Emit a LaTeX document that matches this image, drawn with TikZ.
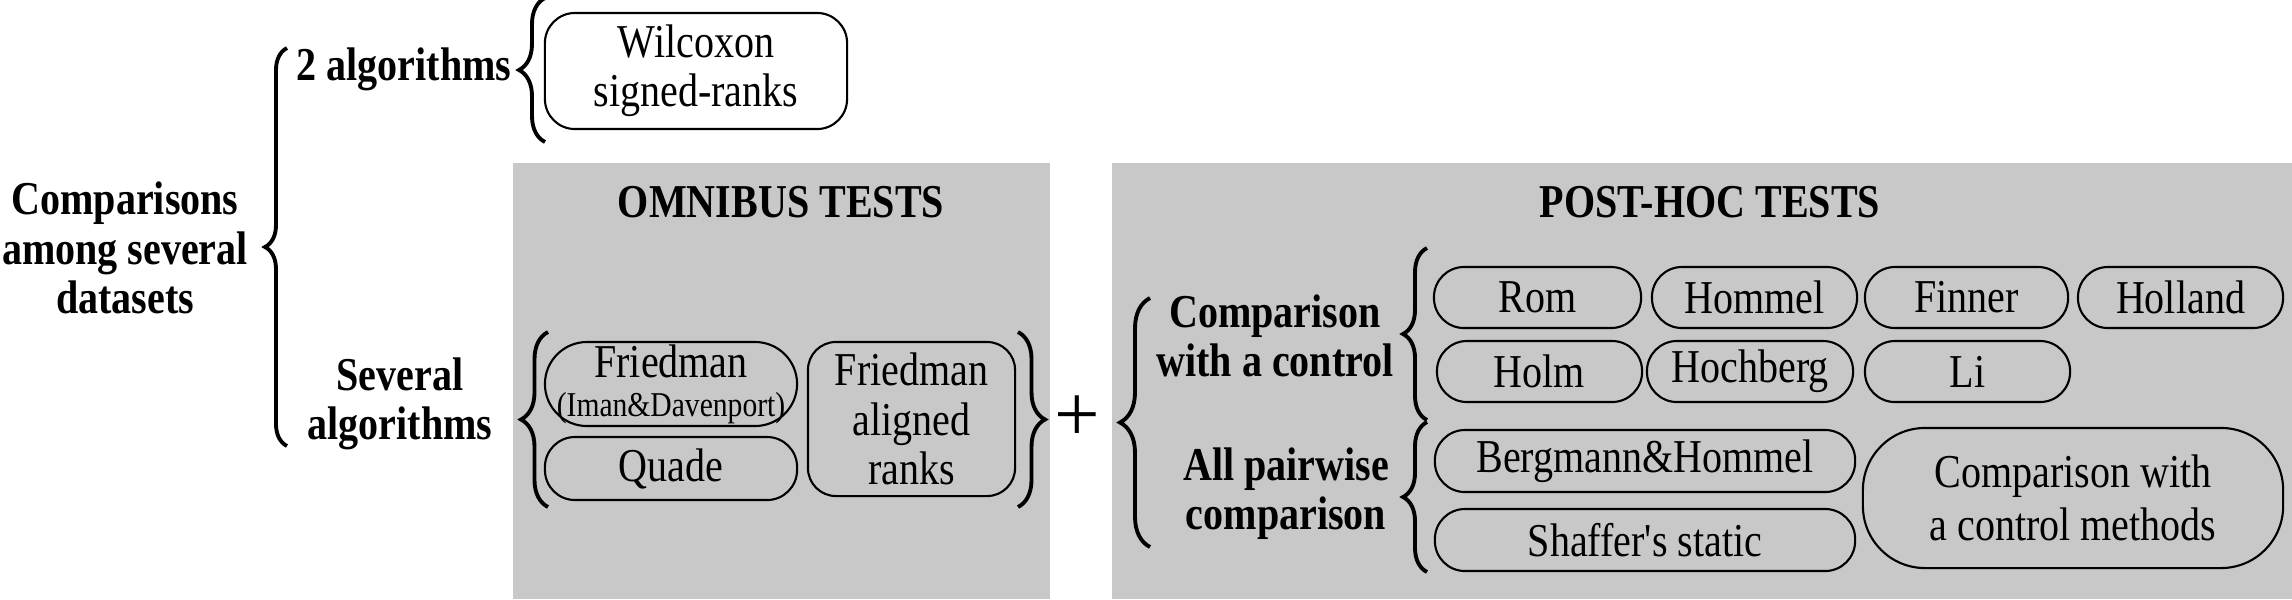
\documentclass[tikz,border=0pt]{standalone}
\usepackage{fontspec}
\setmainfont{Liberation Serif}[FakeStretch=0.85, Ligatures=TeXOff]
\newfontfamily\plainserif{Liberation Serif}
\usetikzlibrary{decorations.pathreplacing}
\definecolor{panelgray}{RGB}{200,200,200}

\begin{document}
\begin{tikzpicture}[%
  x=0.01cm, y=-0.01cm,
  every node/.style={inner sep=0pt, align=center, font=\fontsize{13.4pt}{14pt}\selectfont},
  grouptext/.style={font=\fontsize{13.4pt}{14pt}\selectfont\bfseries},
  pill/.style={draw, line width=0.6pt, rounded corners=0.3cm, minimum height=0.61cm},
  curly/.style={decorate, decoration={brace, amplitude=#1}, line width=1.1pt}]
  \useasboundingbox (0,0) rectangle (2292,599);
  \fill[panelgray] (513,163) rectangle (1050,599);
  \fill[panelgray] (1112,163) rectangle (2292,599);

  \node[grouptext] (datasets) at (125,248) {Comparisons\\among several\\datasets};
  \node[grouptext, anchor=base] (twoalg) at (404,80) {2 algorithms};
  \node[grouptext] (severalalg) at (400,404) {Several\\algorithms};
  \node[pill, minimum width=3.02cm, minimum height=1.16cm] (wilcoxon) at (696,71)
    {Wilcoxon\\signed-ranks};

  \node[grouptext, anchor=base] (omnibus) at (781,217) {OMNIBUS TESTS};
  \node[pill, rounded corners=0.42cm, minimum width=2.52cm, minimum height=0.84cm] (friedman) at (671,384)
    {Friedman\\[-3pt]{\fontsize{9.9pt}{10pt}\selectfont(Iman\&Davenport)}};
  \node[pill, minimum width=2.52cm, minimum height=0.63cm] (quade) at (671,468.5) {Quade};
  \node[pill, rounded corners=0.28cm, minimum width=2.07cm, minimum height=1.54cm] (aligned) at (911.5,419)
    {Friedman\\aligned\\ranks};
  \node[font=\plainserif\fontsize{23pt}{23pt}\selectfont] (plus) at (1077,419) {+};

  \node[grouptext, anchor=base] (posthoc) at (1710,217) {POST-HOC TESTS};
  \node[grouptext] (control) at (1275,336) {Comparison\\with a control};
  \node[grouptext] (pairwise) at (1286,494) {All pairwise\\comparison};
  \node[pill, minimum width=2.07cm] (rom) at (1537.5,297.5) {Rom};
  \node[pill, minimum width=2.05cm] (hommel) at (1754.5,297.5) {Hommel};
  \node[pill, minimum width=2.03cm] (finner) at (1966.5,297.5) {Finner};
  \node[pill, minimum width=2.05cm] (holland) at (2180.5,297.5) {Holland};
  \node[pill, minimum width=2.05cm] (holm) at (1539.5,371.5) {Holm};
  \node[pill, minimum width=2.06cm] (hochberg) at (1750,371.5) {Hochberg};
  \node[pill, minimum width=2.05cm] (li) at (1967.5,371.5) {Li};
  \node[pill, minimum width=4.2cm, minimum height=0.62cm] (bergmann) at (1645,461) {Bergmann\&Hommel};
  \node[pill, minimum width=4.2cm, minimum height=0.62cm] (shaffer) at (1645,540) {Shaffer's static};
  \node[pill, rounded corners=0.62cm, minimum width=4.2cm, minimum height=1.4cm] (methods) at (2073,498)
    {Comparison with\\[1pt]a control methods};

  \coordinate (mainlow) at (287,446);
  \coordinate (mainhigh) at (287,48);
  \coordinate (twolow) at (545,142);
  \coordinate (twohigh) at (545,-2);
  \coordinate (omnilow) at (548,507);
  \coordinate (omnihigh) at (548,332);
  \coordinate (omniendhigh) at (1018,332);
  \coordinate (omniendlow) at (1018,507);
  \coordinate (postlow) at (1150,547);
  \coordinate (posthigh) at (1150,298);
  \coordinate (ctrllow) at (1427,420);
  \coordinate (ctrlhigh) at (1427,248);
  \coordinate (pairlow) at (1427,572);
  \coordinate (pairhigh) at (1427,422);
  \draw[curly=0.22cm] (mainlow) -- (mainhigh);
  \draw[curly=0.26cm] (twolow) -- (twohigh);
  \draw[curly=0.27cm] (omnilow) -- (omnihigh);
  \draw[curly=0.27cm] (omniendhigh) -- (omniendlow);
  \draw[curly=0.3cm] (postlow) -- (posthigh);
  \draw[curly=0.24cm] (ctrllow) -- (ctrlhigh);
  \draw[curly=0.24cm] (pairlow) -- (pairhigh);
\end{tikzpicture}
\end{document}
